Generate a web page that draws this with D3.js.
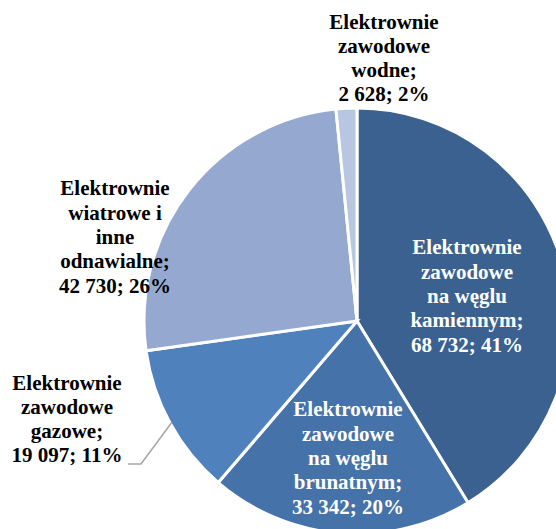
<!DOCTYPE html>
<html>
<head>
<meta charset="utf-8">
<script src="https://cdn.jsdelivr.net/npm/d3@7"></script>
<style>
  html, body { margin: 0; padding: 0; background: #fff; overflow: hidden; }
</style>
</head>
<body>
<div id="chart"></div>
<script>
// data
var names = [
  ["Elektrownie", "zawodowe", "na węglu", "kamiennym;"],
  ["Elektrownie", "zawodowe", "na węglu", "brunatnym;"],
  ["Elektrownie", "zawodowe", "gazowe;"],
  ["Elektrownie", "wiatrowe i", "inne", "odnawialne;"],
  ["Elektrownie", "zawodowe", "wodne;"]
];
var values = [68732, 33342, 19097, 42730, 2628];
var percents = ["41%", "20%", "11%", "26%", "2%"];

var colors = ["#3b6190", "#4572a8", "#4f81bd", "#95a9d0", "#b9c6e1"];
var textColors = ["#fff", "#fff", "#000", "#000", "#000"];
// label centre offsets from pie centre (mean baseline)
var labelOffsets = [[110, -18], [-9, 144], [-290, 105], [-242, -77], [27, -256]];

var width = 556, height = 529,
    cx = 357, cy = 321, radius = 213,
    lineH = 24.3;

var fmt = function(v) { return d3.format(",")(v).replace(/,/g, " "); };

var svg = d3.select("#chart").append("svg")
    .attr("width", width)
    .attr("height", height)
  .append("g")
    .attr("transform", "translate(" + cx + "," + cy + ")");

var pie = d3.pie().sort(null).value(function(d) { return d; });
var arc = d3.arc().innerRadius(0).outerRadius(radius);
var arcs = pie(values);

// slices
svg.selectAll(".slice")
    .data(arcs)
  .enter().append("path")
    .attr("class", "slice")
    .attr("d", arc)
    .style("fill", function(d, i) { return colors[i]; })
    .style("stroke", "#fff")
    .style("stroke-width", 3);

// leader line for the gas slice
var edge = d3.arc().innerRadius(radius - 2).outerRadius(radius - 2).centroid(arcs[2]);
var lp = labelOffsets[2];
svg.append("polyline")
    .attr("points", [edge, [lp[0] + 74, lp[1] + 38], [lp[0] + 61, lp[1] + 38]].map(function(p) { return p.join(","); }).join(" "))
    .style("fill", "none")
    .style("stroke", "#a6a6a6")
    .style("stroke-width", 1.5);

// labels
arcs.forEach(function(d, i) {
  var lines = names[i].concat([fmt(values[i]) + "; " + percents[i]]);
  var off = labelOffsets[i];
  var y0 = off[1] - (lines.length - 1) * lineH / 2;
  var t = svg.append("text")
      .attr("text-anchor", "middle")
      .attr("font-family", "'Liberation Serif', 'Times New Roman', Times, serif")
      .attr("font-weight", "700")
      .attr("font-size", "21px")
      .style("fill", textColors[i]);
  lines.forEach(function(l, j) {
    t.append("tspan")
        .attr("x", off[0])
        .attr("y", y0 + j * lineH)
        .text(l);
  });
});
</script>
</body>
</html>
